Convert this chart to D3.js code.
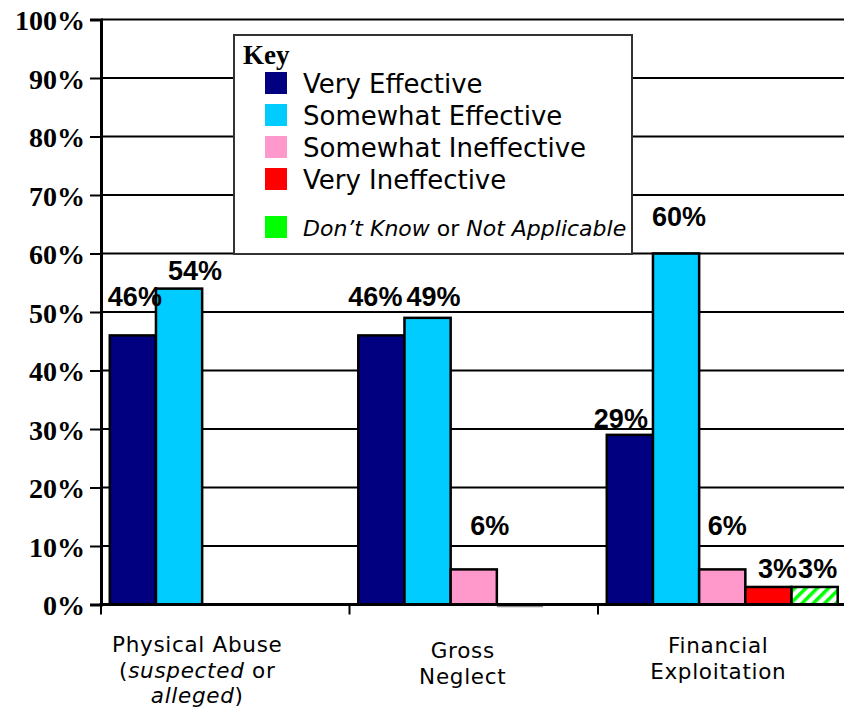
<!DOCTYPE html>
<html>
<head>
<meta charset="utf-8">
<script src="https://cdn.jsdelivr.net/npm/d3@7"></script>
<style>
  html, body { margin: 0; padding: 0; background: #fff; }
  svg { display: block; }
</style>
</head>
<body>
<svg id="chart" width="844" height="709"></svg>
<script>
// ---------------- DATA ----------------
const categories = ["Physical Abuse", "Gross Neglect", "Financial Exploitation"];
const seriesNames = ["Very Effective", "Somewhat Effective", "Somewhat Ineffective", "Very Ineffective", "Don\u2019t Know or Not Applicable"];
const veryEffective        = [46, 46, 29];
const somewhatEffective    = [54, 49, 60];
const somewhatIneffective  = [null, 6, 6];
const veryIneffective      = [null, 0, 3];
const dontKnow             = [null, null, 3];
const yTickValues = [0, 10, 20, 30, 40, 50, 60, 70, 80, 90, 100];

// ---------------- LAYOUT ----------------
const seriesValues = [veryEffective, somewhatEffective, somewhatIneffective, veryIneffective, dontKnow];
const colors = ["#000080", "#00CCFF", "#FF99CC", "#FF0000", "url(#hatch)"];
const svg = d3.select("#chart");

const y = d3.scaleLinear().domain([0, 100]).range([604.5, 19.5]);
const x0 = d3.scaleBand().domain(categories).range([101, 101 + 3 * 248.5]).paddingInner(0).paddingOuter(0);
const x1 = d3.scaleBand().domain(d3.range(seriesNames.length)).range([0, x0.bandwidth()]).paddingInner(0).paddingOuter(0.19);

// pattern
const defs = svg.append("defs");
const pat = defs.append("pattern").attr("id", "hatch").attr("patternUnits", "userSpaceOnUse")
  .attr("width", 8).attr("height", 8).attr("patternTransform", "rotate(45)");
pat.append("rect").attr("width", 8).attr("height", 8).attr("fill", "#fff");
pat.append("rect").attr("width", 3.5).attr("height", 8).attr("fill", "#00FF00");

// gridlines
svg.append("g").selectAll("line").data(yTickValues.filter(d => d > 0)).join("line")
  .attr("x1", 101).attr("x2", 844)
  .attr("y1", d => y(d)).attr("y2", d => y(d))
  .attr("stroke", "#000").attr("stroke-width", 2);

// bars
const barData = [];
categories.forEach((c, ci) => {
  seriesValues.forEach((arr, si) => {
    if (arr[ci] !== null && arr[ci] !== undefined) barData.push({ c, ci, si, v: arr[ci] });
  });
});

const gBars = svg.append("g");
gBars.selectAll("rect").data(barData.filter(d => d.v > 0)).join("rect")
  .attr("x", d => x0(d.c) + x1(d.si))
  .attr("y", d => y(d.v))
  .attr("width", x1.bandwidth())
  .attr("height", d => y(0) - y(d.v))
  .attr("fill", d => colors[d.si])
  .attr("stroke", "#000").attr("stroke-width", 2.5);

// y axis
const yAxis = d3.axisLeft(y).tickValues(yTickValues).tickSize(11).tickFormat(d => d + "%");
const gy = svg.append("g").attr("transform", "translate(101,0)").call(yAxis);
gy.select(".domain").attr("stroke", "#000").attr("stroke-width", 3);
gy.selectAll(".tick line").attr("stroke", "#000").attr("stroke-width", 2);
gy.selectAll(".tick text")
  .attr("x", -16).attr("dy", "0.37em")
  .attr("font-family", "'Liberation Serif', 'Times New Roman', serif")
  .attr("font-weight", "bold").attr("font-size", 28).attr("fill", "#000");

// x axis line & ticks
svg.append("line").attr("x1", 99.5).attr("x2", 844).attr("y1", y(0)).attr("y2", y(0))
  .attr("stroke", "#000").attr("stroke-width", 3);
svg.append("g").selectAll("line").data(categories).join("line")
  .attr("x1", d => x0(d)).attr("x2", d => x0(d))
  .attr("y1", y(0)).attr("y2", y(0) + 10)
  .attr("stroke", "#000").attr("stroke-width", 2);

// zero-height bars
gBars.selectAll("line.zero").data(barData.filter(d => d.v === 0)).join("line")
  .attr("class", "zero")
  .attr("x1", d => x0(d.c) + x1(d.si)).attr("x2", d => x0(d.c) + x1(d.si) + x1.bandwidth())
  .attr("y1", y(0) + 2).attr("y2", y(0) + 2)
  .attr("stroke", "#888").attr("stroke-width", 1.5);

// data labels (with nudges to mimic original placement)
const labelNudge = {
  "0-0": [2, -29], "0-1": [16, -9],
  "1-0": [-6, -29], "1-1": [6, -12], "1-2": [16, -34],
  "2-0": [-9, -7], "2-1": [3, -28], "2-2": [5, -34], "2-3": [9, -9], "2-4": [3, -9]
};
svg.append("g").selectAll("text").data(barData.filter(d => d.v > 0)).join("text")
  .attr("x", d => x0(d.c) + x1(d.si) + x1.bandwidth() / 2 + (labelNudge[d.ci + "-" + d.si] || [0, 0])[0])
  .attr("y", d => y(d.v) + (labelNudge[d.ci + "-" + d.si] || [0, -8])[1])
  .attr("text-anchor", "middle")
  .attr("font-family", "'Liberation Sans', Arial, sans-serif")
  .attr("font-weight", "bold").attr("font-size", 27).attr("fill", "#000")
  .text(d => d.v + "%");

// category labels
const catLines = [
  [[{t: "Physical Abuse"}], [{t: "("}, {t: "suspected", i: true}, {t: " or"}], [{t: "alleged", i: true}, {t: ")"}]],
  [[{t: "Gross"}], [{t: "Neglect"}]],
  [[{t: "Financial"}], [{t: "Exploitation"}]]
];
const catNudge = [-28, -11, -4];
const catFirstBaseline = [652, 658, 653];
categories.forEach((c, ci) => {
  const cx = x0(c) + x0.bandwidth() / 2 + catNudge[ci];
  catLines[ci].forEach((line, li) => {
    const t = svg.append("text")
      .attr("x", cx).attr("y", catFirstBaseline[ci] + li * 25.5)
      .attr("text-anchor", "middle")
      .attr("font-family", "'DejaVu Sans', Verdana, sans-serif")
      .attr("font-size", 21.5).attr("letter-spacing", 0.7).attr("fill", "#000");
    line.forEach(seg => t.append("tspan").attr("font-style", seg.i ? "italic" : "normal").text(seg.t));
  });
});

// legend
const lg = svg.append("g");
lg.append("rect").attr("x", 234).attr("y", 35).attr("width", 398).attr("height", 219)
  .attr("fill", "#fff").attr("stroke", "#333").attr("stroke-width", 2);
lg.append("text").attr("x", 243).attr("y", 64)
  .attr("font-family", "'Liberation Serif', 'Times New Roman', serif")
  .attr("font-weight", "bold").attr("font-size", 27).text("Key");
const legendRowY = [83, 115, 147, 179, 227];
seriesNames.forEach((s, si) => {
  const cy = legendRowY[si];
  lg.append("rect").attr("x", 265).attr("y", cy - 11).attr("width", 22).attr("height", 22)
    .attr("fill", si === 4 ? "#00FF00" : colors[si]);
  const t = lg.append("text").attr("x", 303).attr("y", cy + 10)
    .attr("font-family", "'DejaVu Sans', Verdana, sans-serif")
    .attr("font-size", si === 4 ? 22 : 26).attr("fill", "#000");
  if (si === 4) {
    t.attr("y", cy + 9);
    t.append("tspan").attr("font-style", "italic").text("Don\u2019t Know");
    t.append("tspan").text(" or ");
    t.append("tspan").attr("font-style", "italic").text("Not Applicable");
  } else {
    t.text(s);
  }
});
</script>
</body>
</html>
